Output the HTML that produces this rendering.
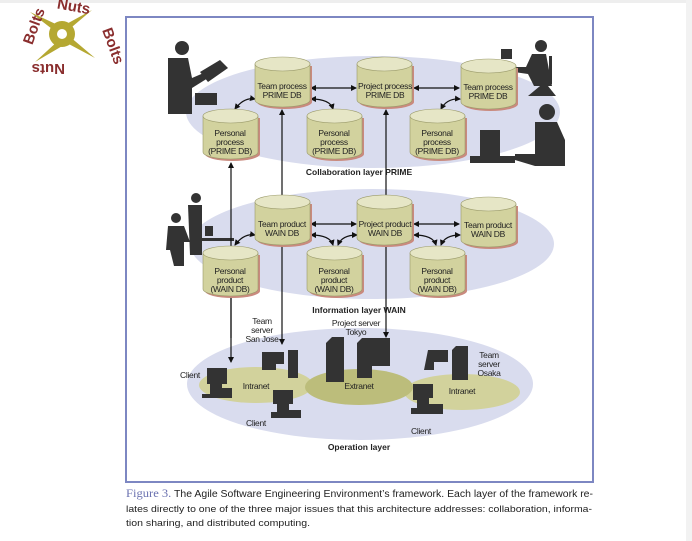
<!DOCTYPE html>
<html><head><meta charset="utf-8"><style>
html,body{margin:0;padding:0;background:#fff;}
svg{display:block;}
text{font-family:"Liberation Sans",sans-serif;fill:#222;}
</style></head><body>
<svg width="692" height="541" viewBox="0 0 692 541" xmlns="http://www.w3.org/2000/svg">
<defs>
<marker id="a" markerWidth="6" markerHeight="6" refX="5" refY="3" orient="auto-start-reverse" markerUnits="userSpaceOnUse"><path d="M0,0 L6,3 L0,6 z" fill="#111"/></marker>
<g id="cyl">
<path d="M2,8 v36 a27.5,7 0 0 0 55,0 v-36 z" fill="#c98a7e"/>
<path d="M0,6 v36 a27.5,7 0 0 0 55,0 v-36 z" fill="#d2d29e" stroke="#9a9a6a" stroke-width="0.6"/>
<ellipse cx="27.5" cy="6" rx="27.5" ry="7" fill="#e6e6c6" stroke="#9a9a6a" stroke-width="0.6"/>
</g>
</defs>
<rect x="0" y="0" width="692" height="3" fill="#eee"/>
<rect x="686" y="0" width="6" height="541" fill="#f2f2f2"/>
<!-- logo -->
<g fill="#b5a832">
<circle cx="62" cy="34" r="13"/>
<path d="M30,12 l30,14 l-4,6 z M92,10 l-26,22 l-5,-5 z M95,58 l-30,-16 l4,-6 z M35,62 l24,-22 l5,5 z"/>
</g>
<circle cx="62" cy="34" r="5" fill="#fff"/>
<g font-size="15" font-weight="bold">
<text x="57" y="10" style="fill:#8a2e2e" transform="rotate(10 66 6)">Nuts</text>
<text x="20" y="40" style="fill:#8a2e2e" transform="rotate(-70 30 34)">Bolts</text>
<text x="88" y="30" style="fill:#8a2e2e" transform="rotate(70 95 40)">Bolts</text>
<text x="35" y="72" style="fill:#8a2e2e" transform="rotate(180 50 68)">Nuts</text>
</g>
<!-- frame -->
<rect x="126" y="17" width="467" height="465" fill="#fff" stroke="#7d87c2" stroke-width="2"/>
<!-- ellipses -->
<ellipse cx="373" cy="112" rx="187" ry="56" fill="#d9dcee"/>
<ellipse cx="372" cy="244" rx="182" ry="55" fill="#d9dcee"/>
<ellipse cx="360" cy="384" rx="173" ry="56" fill="#d9dcee"/>
<ellipse cx="256" cy="385" rx="57" ry="18" fill="#d2d29c"/>
<ellipse cx="462" cy="392" rx="58" ry="18" fill="#d2d29c"/>
<ellipse cx="359" cy="387" rx="54" ry="18" fill="#bcbd7b"/>
<!-- people silhouettes -->
<g fill="#333">
<circle cx="182" cy="48" r="7"/><path d="M168,58 h20 l4,20 l14,-6 l2,6 l-16,10 v26 h-24 z"/><path d="M200,72 l20,-12 l8,8 l-20,14 z"/><rect x="195" y="93" width="22" height="12"/>
<circle cx="541" cy="46" r="6"/><path d="M532,54 h14 l6,32 h-18 l-6,-12 l-14,-2 v-5 h12 z"/><rect x="501" y="49" width="11" height="10"/><path d="M540,86 l-12,10 h28 l-8,-10 z"/><rect x="549" y="56" width="3" height="28"/>
<circle cx="547" cy="112" r="8"/><path d="M535,122 h22 l8,18 v26 h-30 l-20,-6 v-6 h20 z"/><rect x="480" y="130" width="20" height="26"/><rect x="470" y="156" width="45" height="7"/>
<circle cx="196" cy="198" r="5"/><path d="M188,205 h14 v50 h-12 z"/><circle cx="176" cy="218" r="5"/><path d="M168,226 h16 l6,16 h-6 v24 h-10 l-4,-16 h-4 z"/><rect x="205" y="226" width="8" height="10"/><rect x="200" y="238" width="34" height="3"/>
</g>
<!-- vertical lines -->
<g stroke="#111" stroke-width="1.2" fill="none">
<line x1="231" y1="338" x2="231" y2="163" marker-end="url(#a)"/>
<line x1="231" y1="298" x2="231" y2="362" marker-end="url(#a)"/>
<line x1="282" y1="240" x2="282" y2="110" marker-end="url(#a)"/>
<line x1="282" y1="245" x2="282" y2="344" marker-end="url(#a)"/>
<line x1="386" y1="240" x2="386" y2="110" marker-end="url(#a)"/>
<line x1="386" y1="245" x2="386" y2="337" marker-end="url(#a)"/>
<line x1="311" y1="88" x2="356" y2="88" marker-start="url(#a)" marker-end="url(#a)"/>
<line x1="414" y1="88" x2="459" y2="88" marker-start="url(#a)" marker-end="url(#a)"/>
<line x1="311" y1="224" x2="356" y2="224" marker-start="url(#a)" marker-end="url(#a)"/>
<line x1="414" y1="224" x2="459" y2="224" marker-start="url(#a)" marker-end="url(#a)"/>
<path d="M235,109 q9,-12 20,-10" marker-start="url(#a)" marker-end="url(#a)"/>
<path d="M311,99 q19,0 22,10" marker-start="url(#a)" marker-end="url(#a)"/>
<path d="M441,109 q6,-11 19,-10" marker-start="url(#a)" marker-end="url(#a)"/>
<path d="M235,245 q9,-12 20,-10" marker-start="url(#a)" marker-end="url(#a)"/>
<path d="M311,235 q19,0 22,10" marker-start="url(#a)" marker-end="url(#a)"/>
<path d="M338,245 q4,-10 19,-10" marker-start="url(#a)" marker-end="url(#a)"/>
<path d="M414,235 q19,0 22,10" marker-start="url(#a)" marker-end="url(#a)"/>
<path d="M441,245 q4,-10 19,-10" marker-start="url(#a)" marker-end="url(#a)"/>
</g>
<!-- cylinders -->
<use href="#cyl" x="255" y="58"/><use href="#cyl" x="357" y="58"/><use href="#cyl" x="461" y="60"/>
<use href="#cyl" x="203" y="110"/><use href="#cyl" x="307" y="110"/><use href="#cyl" x="410" y="110"/>
<use href="#cyl" x="255" y="196"/><use href="#cyl" x="357" y="196"/><use href="#cyl" x="461" y="198"/>
<use href="#cyl" x="203" y="247"/><use href="#cyl" x="307" y="247"/><use href="#cyl" x="410" y="247"/>
<g font-size="8.5" text-anchor="middle" letter-spacing="-0.3">
<text x="282" y="89">Team process</text><text x="282" y="98">PRIME DB</text>
<text x="385" y="89">Project process</text><text x="385" y="98">PRIME DB</text>
<text x="488" y="90">Team process</text><text x="488" y="99">PRIME DB</text>
<text x="230" y="136">Personal</text><text x="230" y="145">process</text><text x="230" y="154">(PRIME DB)</text>
<text x="334" y="136">Personal</text><text x="334" y="145">process</text><text x="334" y="154">(PRIME DB)</text>
<text x="437" y="136">Personal</text><text x="437" y="145">process</text><text x="437" y="154">(PRIME DB)</text>
<text x="282" y="227">Team product</text><text x="282" y="236">WAIN DB</text>
<text x="385" y="227">Project product</text><text x="385" y="236">WAIN DB</text>
<text x="488" y="228">Team product</text><text x="488" y="237">WAIN DB</text>
<text x="230" y="274">Personal</text><text x="230" y="283">product</text><text x="230" y="292">(WAIN DB)</text>
<text x="334" y="274">Personal</text><text x="334" y="283">product</text><text x="334" y="292">(WAIN DB)</text>
<text x="437" y="274">Personal</text><text x="437" y="283">product</text><text x="437" y="292">(WAIN DB)</text>
<text x="262" y="324">Team</text><text x="262" y="333">server</text><text x="262" y="342">San Jose</text>
<text x="356" y="326">Project server</text><text x="356" y="335">Tokyo</text>
<text x="489" y="358">Team</text><text x="489" y="367">server</text><text x="489" y="376">Osaka</text>
<text x="190" y="378">Client</text><text x="256" y="389">Intranet</text>
<text x="359" y="389">Extranet</text><text x="462" y="394">Intranet</text>
<text x="256" y="426">Client</text><text x="421" y="434">Client</text>
</g>
<g font-size="8.5" font-weight="bold" text-anchor="middle">
<text x="359" y="175">Collaboration layer PRIME</text>
<text x="359" y="313">Information layer WAIN</text>
<text x="359" y="450">Operation layer</text>
</g>
<!-- servers -->
<g fill="#333">
<path d="M207,368 h20 v16 h-5 v4 h10 v10 h-30 v-4 h8 v-10 h-3 z"/>
<path d="M262,352 h22 v12 h-8 v6 h-14 z"/><path d="M288,350 h10 v28 h-10 z"/>
<path d="M273,390 h20 v14 h-4 v6 h12 v8 h-30 v-6 h6 v-8 h-4 z"/>
<path d="M326,343 l6,-6 h12 v45 h-18 z"/><path d="M357,343 l5,-5 h28 v28 h-18 v12 h-15 z"/>
<path d="M428,350 h20 v12 h-14 v8 h-10 z"/><path d="M452,350 l4,-4 h12 v34 h-16 z"/>
<path d="M413,384 h20 v14 h-4 v6 h14 v10 h-32 v-6 h6 v-8 h-4 z"/>
</g>
<!-- caption -->
<text x="126" y="497" font-size="10" textLength="467" lengthAdjust="spacingAndGlyphs"><tspan font-family="Liberation Serif" font-size="12" style="fill:#6b72b0">Figure 3.</tspan> The Agile Software Engineering Environment’s framework. Each layer of the framework re-</text>
<text x="126" y="512" font-size="9.5" textLength="466" lengthAdjust="spacingAndGlyphs">lates directly to one of the three major issues that this architecture addresses: collaboration, informa-</text>
<text x="126" y="526" font-size="9.5" textLength="184" lengthAdjust="spacingAndGlyphs">tion sharing, and distributed computing.</text>
</svg>
</body></html>
